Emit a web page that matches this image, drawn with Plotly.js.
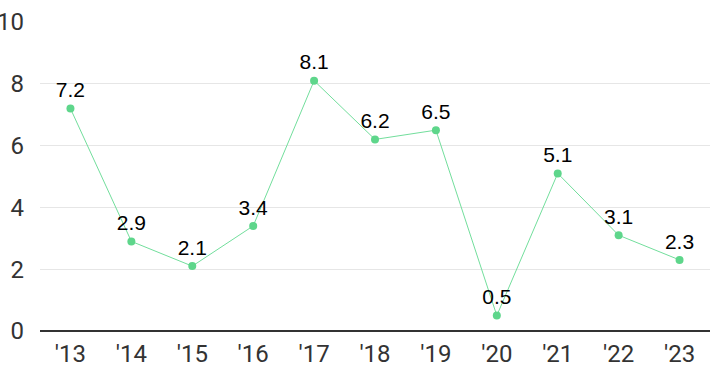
<!DOCTYPE html>
<html><head><meta charset="utf-8">
<script src="https://cdn.plot.ly/plotly-3.0.1.min.js"></script>
<style>html,body{margin:0;padding:0;background:#fff;overflow:hidden}#c{width:710px;height:371px}</style>
</head><body><div id="c"></div>
<script>
const years = ["'13","'14","'15","'16","'17","'18","'19","'20","'21","'22","'23"];
const values = [7.2, 2.9, 2.1, 3.4, 8.1, 6.2, 6.5, 0.5, 5.1, 3.1, 2.3];
const labels = values.map(v => v.toFixed(1));
const yTicks = [0, 2, 4, 6, 8, 10];

Plotly.newPlot('c', [{
  x: years, y: values, type: 'scatter', mode: 'lines+markers+text',
  text: labels, textposition: 'top center',
  textfont: {family: 'Liberation Sans, Arial, sans-serif', size: 21, color: '#000'},
  line: {color: '#72de9c', width: 1},
  marker: {color: '#5ed68b', size: 8},
  cliponaxis: false, hoverinfo: 'none'
}], {
  width: 710, height: 371,
  margin: {l: 40, r: 0, t: 22, b: 40},
  paper_bgcolor: '#fff', plot_bgcolor: '#fff',
  showlegend: false,
  xaxis: {type: 'category', range: [-0.5, 10.5], showgrid: false, zeroline: false,
    showline: false, ticks: '', ticklabelstandoff: 6,
    tickfont: {family: 'Roboto, sans-serif', size: 24, color: '#333'}},
  yaxis: {range: [0, 10], tickvals: yTicks, ticktext: yTicks.map(String),
    showgrid: true, gridcolor: '#e6e6e6', gridwidth: 1,
    zeroline: true, zerolinecolor: '#333', zerolinewidth: 1.5,
    showline: false, ticks: '', ticklabelstandoff: 15,
    tickfont: {family: 'Roboto, sans-serif', size: 24, color: '#333'}}
}, {staticPlot: true, displayModeBar: false});
</script></body></html>
